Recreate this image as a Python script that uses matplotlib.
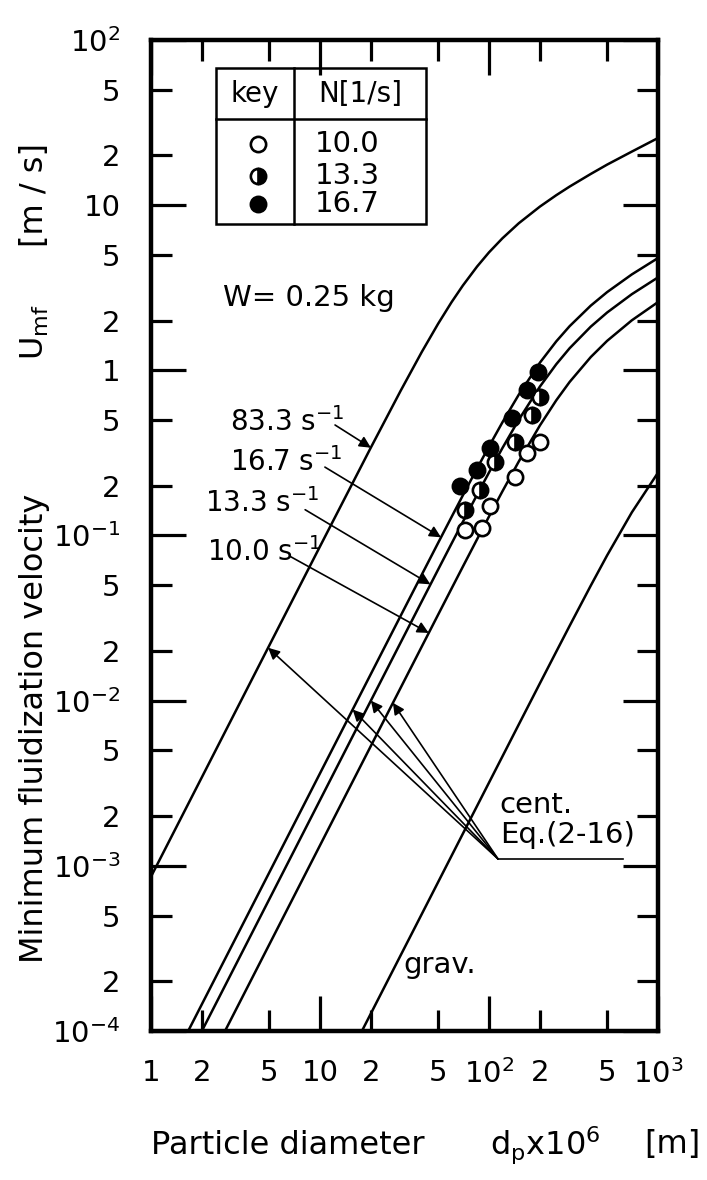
"""Minimum fluidization velocity of a centrifugal fluidized bed vs particle diameter."""

import matplotlib

matplotlib.use("Agg")
import matplotlib.pyplot as plt
from matplotlib.patches import Rectangle
from matplotlib.ticker import FixedFormatter, FixedLocator

plt.rcParams["font.family"] = ["DejaVu Sans"]
plt.rcParams["mathtext.default"] = "regular"

# particle diameter dp x 1e6 [m] at which the curves are tabulated
dp_curve = [1, 2, 5, 10, 20, 30, 40, 50, 60, 70, 85, 100, 120, 150, 200,
            250, 300, 400, 500, 700, 1000]

# Umf [m/s], centrifugal bed, Eq.(2-16), for each rotating speed
umf_83_3 = [8.6e-4, 3.44e-3, 0.0215, 0.0859, 0.341, 0.752, 1.291, 1.915,
            2.584, 3.26, 4.25, 5.18, 6.297, 7.77, 9.80, 11.49, 12.96, 15.45,
            17.6, 21.1, 25.5]
umf_16_7 = [3.63e-5, 1.452e-4, 9.075e-4, 3.63e-3, 0.01451, 0.03263, 0.0579,
            0.0902, 0.1293, 0.1749, 0.2547, 0.3463, 0.484, 0.712, 1.112,
            1.497, 1.851, 2.464, 2.976, 3.808, 4.785]
umf_13_3 = [2.5e-5, 1.0e-4, 6.25e-4, 2.5e-3, 0.01, 0.02248, 0.0399, 0.0622,
            0.08923, 0.1209, 0.1764, 0.2407, 0.3381, 0.502, 0.797, 1.0885,
            1.361, 1.838, 2.239, 2.891, 3.653]
umf_10_0 = [1.33e-5, 5.32e-5, 3.325e-4, 1.33e-3, 5.32e-3, 0.01196, 0.02125,
            0.03316, 0.04766, 0.06472, 0.09487, 0.1303, 0.1849, 0.2804,
            0.4634, 0.6582, 0.8504, 1.203, 1.508, 2.008, 2.589]
# conventional (gravity) bed
umf_grav = [3.19e-7, 1.276e-6, 7.975e-6, 3.19e-5, 1.276e-4, 2.871e-4, 5.10e-4,
            7.97e-4, 1.148e-3, 1.563e-3, 2.304e-3, 3.189e-3, 4.59e-3, 7.17e-3,
            0.01272, 0.0198, 0.02838, 0.04969, 0.0758, 0.138, 0.240]

# measured points, W = 0.25 kg
dp_n10_0 = [200.4, 167.2, 142.5, 101.4, 90.5, 72.1]
umf_n10_0 = [0.370, 0.315, 0.227, 0.150, 0.111, 0.108]
dp_n13_3 = [200.4, 178.9, 142.5, 108.5, 88.5, 72.1]
umf_n13_3 = [0.693, 0.537, 0.370, 0.280, 0.189, 0.143]
dp_n16_7 = [195.7, 167.2, 136.2, 101.4, 84.6, 67.3]
umf_n16_7 = [0.982, 0.761, 0.513, 0.338, 0.250, 0.198]

key_speeds = ["10.0", "13.3", "16.7"]

x_major = [1, 10, 100, 1000]
x_major_labels = ["1", "10", "$10^2$", "$10^3$"]
x_minor = [2, 5, 20, 50, 200, 500]
x_minor_labels = ["2", "5", "2", "5", "2", "5"]
y_major = [1e-4, 1e-3, 1e-2, 1e-1, 1, 10, 100]
y_major_labels = ["$10^{-4}$", "$10^{-3}$", "$10^{-2}$", "$10^{-1}$", "1", "10", "$10^2$"]
y_minor = [2e-4, 5e-4, 2e-3, 5e-3, 2e-2, 5e-2, 0.2, 0.5, 2, 5, 20, 50]
y_minor_labels = ["2", "5"] * 6

FS = 21
k = "black"

fig = plt.figure(figsize=(7.07, 11.8), dpi=100)
ax = fig.add_axes([0.2136, 0.1263, 0.7171, 0.8398])
ax.set_xscale("log")
ax.set_yscale("log")
ax.set_xlim(1, 1000)
ax.set_ylim(1e-4, 100)

for umf in (umf_83_3, umf_16_7, umf_13_3, umf_10_0, umf_grav):
    ax.plot(dp_curve, umf, color=k, lw=1.8, zorder=2)

mk = dict(marker="o", ms=11, mec=k, mew=1.9, ls="none", zorder=4)
ax.plot(dp_n10_0, umf_n10_0, mfc="white", **mk)
ax.plot(dp_n13_3, umf_n13_3, fillstyle="right", mfc=k, mfcalt="white", **mk)
ax.plot(dp_n16_7, umf_n16_7, mfc=k, **mk)

# ticks on all sides, pointing inward
ax.xaxis.set_major_locator(FixedLocator(x_major))
ax.xaxis.set_major_formatter(FixedFormatter(x_major_labels))
ax.xaxis.set_minor_locator(FixedLocator(x_minor))
ax.xaxis.set_minor_formatter(FixedFormatter(x_minor_labels))
ax.yaxis.set_major_locator(FixedLocator(y_major))
ax.yaxis.set_major_formatter(FixedFormatter(y_major_labels))
ax.yaxis.set_minor_locator(FixedLocator(y_minor))
ax.yaxis.set_minor_formatter(FixedFormatter(y_minor_labels))
ax.tick_params(which="both", direction="in", top=True, right=True,
               width=2.3, labelsize=FS, colors=k)
ax.tick_params(which="major", length=25)
ax.tick_params(which="minor", length=15)
ax.tick_params(axis="x", which="both", pad=20)
ax.tick_params(axis="y", which="both", pad=22)
for sp in ax.spines.values():
    sp.set_linewidth(3.2)

# key table
tr = ax.transAxes
ax.add_patch(Rectangle((0.128, 0.814), 0.414, 0.158, transform=tr,
                       fill=False, ec=k, lw=1.8, zorder=5))
ax.plot([0.128, 0.542], [0.920, 0.920], color=k, lw=1.8, transform=tr, zorder=5)
ax.plot([0.282, 0.282], [0.814, 0.972], color=k, lw=1.8, transform=tr, zorder=5)
ax.text(0.205, 0.946, "key", transform=tr, ha="center", va="center", fontsize=20)
ax.text(0.412, 0.946, "N[1/s]", transform=tr, ha="center", va="center", fontsize=20)
row_y = [0.895, 0.863, 0.835]
key_styles = [dict(mfc="white"), dict(fillstyle="right", mfc=k, mfcalt="white"),
              dict(mfc=k)]
for yy, lab, st in zip(row_y, key_speeds, key_styles):
    ax.plot([0.211], [yy], transform=tr, clip_on=False, **mk, **st)
    ax.text(0.323, yy, lab, transform=tr, ha="left", va="center", fontsize=FS)

ax.text(0.142, 0.740, "W= 0.25 kg", transform=tr, ha="left", va="center", fontsize=FS)

arrow = dict(arrowstyle="-|>", color=k, lw=1.2, shrinkA=0, shrinkB=0,
             mutation_scale=17)

# rotating-speed labels
speed_labels = [
    ("83.3 s$^{-1}$", (0.156, 0.6145), (0.363, 0.6115), (20, 0.34)),
    ("16.7 s$^{-1}$", (0.156, 0.574), (0.343, 0.569), (52, 0.0975)),
    ("13.3 s$^{-1}$", (0.1065, 0.533), (0.304, 0.526), (45, 0.0506)),
    ("10.0 s$^{-1}$", (0.110, 0.483), (0.274, 0.479), (44, 0.0257)),
]
for lab, txy, start, tip in speed_labels:
    ax.text(*txy, lab, transform=tr, ha="left", va="center", fontsize=20)
    ax.annotate("", xy=tip, xytext=start, textcoords="axes fraction",
                arrowprops=arrow)

# leader for Eq.(2-16)
junction = (0.6844, 0.1736)
for tip in [(4.93, 0.0209), (15.6, 0.00883), (20, 0.01), (27, 0.0097)]:
    ax.annotate("", xy=tip, xytext=junction, textcoords="axes fraction",
                arrowprops=arrow)
ax.plot([junction[0], 0.931], [junction[1], junction[1]], color=k, lw=1.2,
        transform=tr)
ax.text(0.688, 0.228, "cent.", transform=tr, ha="left", va="center", fontsize=FS)
ax.text(0.688, 0.198, "Eq.(2-16)", transform=tr, ha="left", va="center", fontsize=FS)
ax.text(0.497, 0.067, "grav.", transform=tr, ha="left", va="center", fontsize=FS)

# axis titles, each part placed on its own
LFS = 23
for txt, py in [("Minimum fluidization velocity", 728), ("$U_{mf}$", 332),
                ("[m / s]", 195)]:
    fig.text(35 / 707, 1 - py / 1180, txt, rotation=90, ha="center",
             va="center", fontsize=LFS)
for txt, px in [("Particle diameter", 288), ("$d_p$x10$^6$", 545), ("[m]", 672)]:
    fig.text(px / 707, 1 - 1145 / 1180, txt, ha="center", va="center",
             fontsize=LFS)

fig.savefig("out.png", dpi=100, facecolor="white")
